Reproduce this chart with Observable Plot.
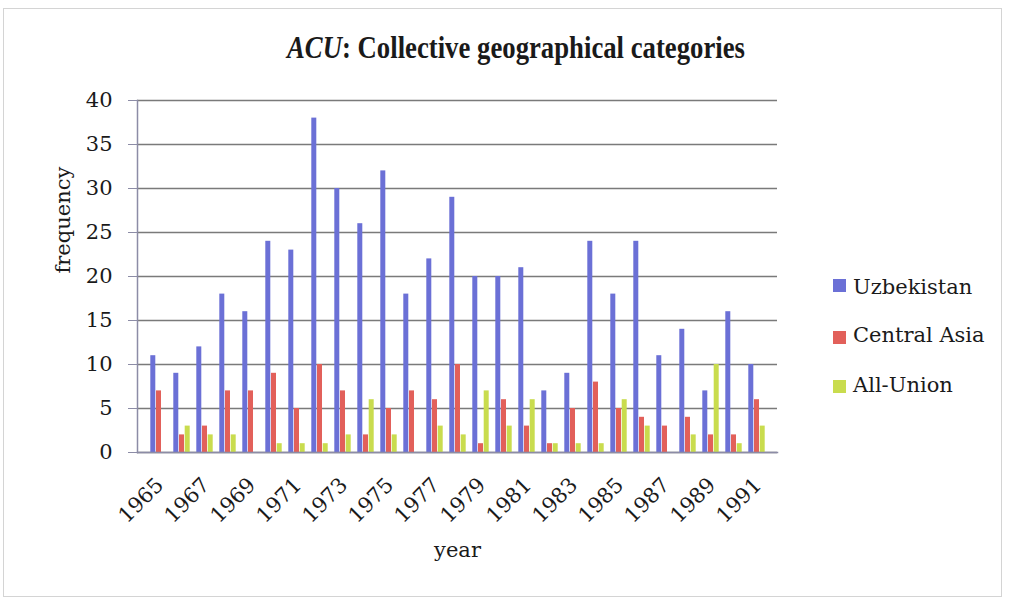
<!DOCTYPE html>
<html>
<head>
<meta charset="utf-8">
<script src="https://cdn.jsdelivr.net/npm/d3@7"></script>
<script src="https://cdn.jsdelivr.net/npm/@observablehq/plot@0.6"></script>
<style>
  html, body { margin: 0; padding: 0; background: #fff; }
  #wrap { position: relative; width: 1014px; height: 602px; overflow: hidden; font-family: "DejaVu Serif", serif; color: #1a1a1a; }
  #frame { position: absolute; left: 3px; top: 8px; width: 999px; height: 589px; border: 1px solid #d4d4d4; box-sizing: border-box; }
  #chart { position: absolute; left: 0; top: 0; }
  #title { position: absolute; left: 287px; top: 31px; white-space: nowrap; font-family: "Liberation Serif", serif; font-weight: bold; font-size: 32px; line-height: 32px; transform-origin: 0 0; color: #1a1a1a; }
  .lg { position: absolute; left: 853px; font-size: 21px; line-height: 21px; white-space: nowrap; }
  .sw { position: absolute; left: 833px; width: 13px; height: 13px; }
</style>
</head>
<body>
<div id="wrap">
  <div id="frame"></div>
  <div id="chart"></div>
  <div id="title"><i>ACU</i>: Collective geographical categories</div>
</div>
<script>
const years = [1965,1966,1967,1968,1969,1970,1971,1972,1973,1974,1975,1976,1977,1978,1979,1980,1981,1982,1983,1984,1985,1986,1987,1988,1989,1990,1991];
const uzbekistan  = [11,9,12,18,16,24,23,38,30,26,32,18,22,29,20,20,21,7,9,24,18,24,11,14,7,16,10];
const centralAsia = [7,2,3,7,7,9,5,10,7,2,5,7,6,10,1,6,3,1,5,8,5,4,3,4,2,2,6];
const allUnion    = [0,3,2,2,0,1,1,1,2,6,2,0,3,2,7,3,6,1,1,1,6,3,0,2,10,1,3];
const seriesNames = ["Uzbekistan","Central Asia","All-Union"];
const seriesColors = ["#6b70d6","#e2605a","#c9dc4e"];
const yTicks = [0,5,10,15,20,25,30,35,40];
const xTickLabels = [1965,1967,1969,1971,1973,1975,1977,1979,1981,1983,1985,1987,1989,1991];

const seriesValues = [uzbekistan, centralAsia, allUnion];
const data = [];
seriesNames.forEach((s, k) => years.forEach((y, i) => data.push({year: y, series: s, value: seriesValues[k][i]})));

const barOffsets = [-5.7, 0, 5.7];
const bars = seriesNames.map((s, k) => Plot.barY(data.filter(d => d.series === s), {
  x: "year", y: "value", fill: seriesColors[k], insetLeft: 9, insetRight: 9, dx: barOffsets[k]
}));

const plot = Plot.plot({
  width: 1014,
  height: 602,
  marginLeft: 137,
  marginRight: 237,
  marginTop: 100,
  marginBottom: 150,
  style: {fontFamily: "DejaVu Serif", fontSize: "21px", color: "#1a1a1a", background: "transparent"},
  x: {type: "band", domain: years, padding: 0, axis: null},
  y: {domain: [0, 40], axis: null},
  marks: [
    Plot.ruleY(yTicks, {stroke: "#7a7a7a", strokeWidth: 1.5}),
    ...bars,
    Plot.frame({anchor: "left", stroke: "#8c8ca6", strokeWidth: 1.5}),
    Plot.frame({anchor: "bottom", stroke: "#8c8ca6", strokeWidth: 1.5}),
    Plot.axisY({ticks: yTicks, tickSize: 9, tickPadding: 16, stroke: "#8c8ca6", label: null, fontSize: 21}),
    Plot.axisX({ticks: xTickLabels, tickFormat: d => String(d), tickSize: 0, tickPadding: 29, tickRotate: -45, dx: 1, label: null, fontSize: 21}),
    Plot.text(["frequency"], {frameAnchor: "left", dx: -74, dy: -3, rotate: -90, fontSize: 21, fill: "#1a1a1a"}),
    Plot.text(["year"], {frameAnchor: "bottom", dy: 104, fontSize: 21, fill: "#1a1a1a"})
  ]
});
document.getElementById("chart").appendChild(plot);

// legend
const wrap = document.getElementById("wrap");
const textTops = [277, 325, 375];
const swTops = [279, 331, 380];
seriesNames.forEach((s, k) => {
  const sw = document.createElement("div");
  sw.className = "sw"; sw.style.top = swTops[k] + "px"; sw.style.background = seriesColors[k];
  wrap.appendChild(sw);
  const t = document.createElement("div");
  t.className = "lg"; t.style.top = textTops[k] + "px"; t.textContent = s;
  wrap.appendChild(t);
});

// fit title width
const title = document.getElementById("title");
const w = title.getBoundingClientRect().width;
title.style.transform = `scaleX(${458 / w})`;
</script>
</body>
</html>
